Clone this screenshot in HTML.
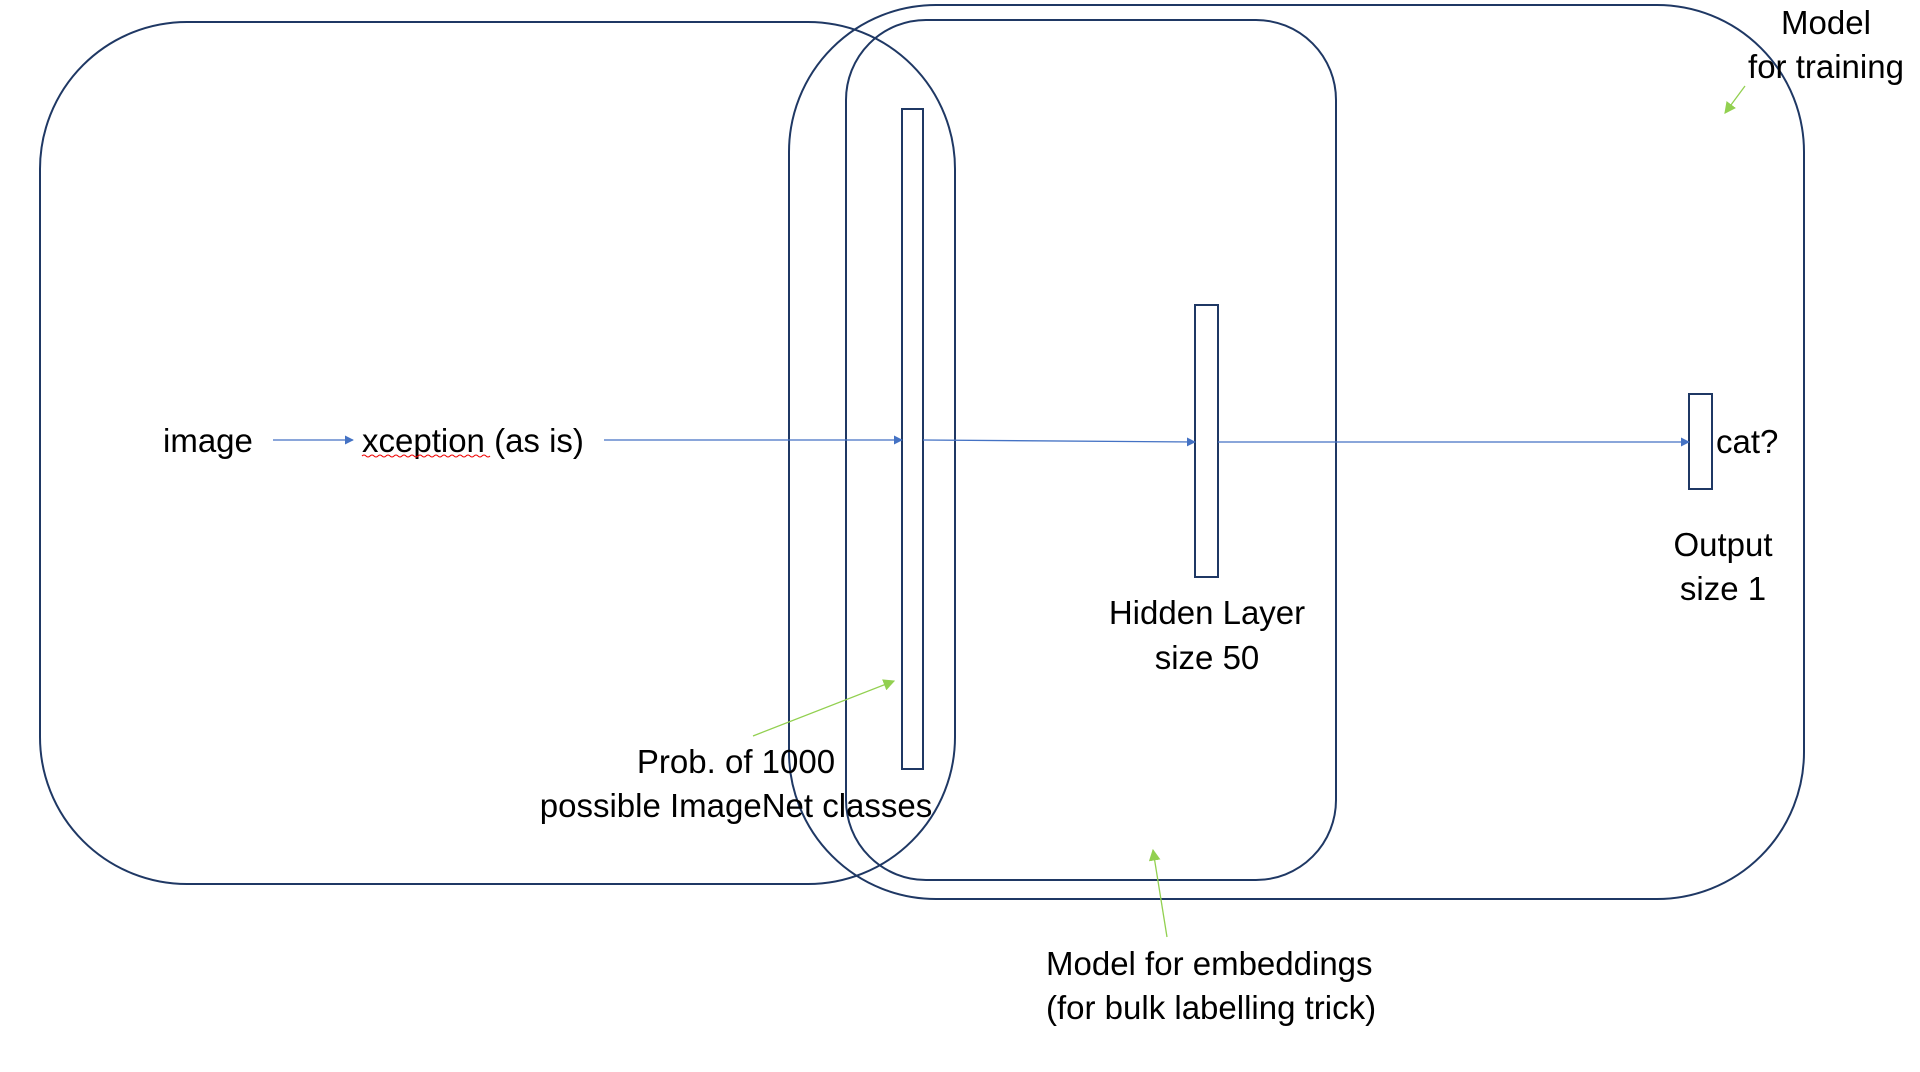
<!DOCTYPE html>
<html><head><meta charset="utf-8"><style>
html,body{margin:0;padding:0;background:#fff;}
svg{display:block;}
text{font-family:"Liberation Sans",sans-serif;font-size:33px;fill:#000;}
</style></head><body>
<svg width="1920" height="1072" viewBox="0 0 1920 1072" xmlns="http://www.w3.org/2000/svg">
<defs>
<marker id="ab" viewBox="0 0 10 10" refX="9" refY="5" markerWidth="7" markerHeight="7" orient="auto"><path d="M0,0L10,5L0,10z" fill="#4472c4"/></marker>
<marker id="ag" viewBox="0 0 10 10" refX="9" refY="5" markerWidth="9" markerHeight="9" orient="auto"><path d="M0,0L10,5L0,10z" fill="#92d050"/></marker>
</defs>
<g fill="none" stroke="#1f3864" stroke-width="2">
<rect x="40" y="22" width="915" height="862" rx="147" ry="147"/>
<rect x="789" y="5" width="1015" height="894" rx="147" ry="147"/>
<rect x="846" y="20" width="490" height="860" rx="80" ry="80"/>
<rect x="902" y="109" width="21" height="660"/>
<rect x="1195" y="305" width="23" height="272"/>
<rect x="1689" y="394" width="23" height="95"/>
</g>
<g stroke="#4472c4" stroke-width="1.3" fill="none">
<line x1="273" y1="440" x2="353" y2="440" marker-end="url(#ab)"/>
<line x1="604" y1="440" x2="902" y2="440" marker-end="url(#ab)"/>
<line x1="923" y1="440" x2="1195" y2="442" marker-end="url(#ab)"/>
<line x1="1218" y1="442" x2="1689" y2="442" marker-end="url(#ab)"/>
</g>
<g stroke="#92d050" stroke-width="1.3" fill="none">
<line x1="753" y1="736" x2="894" y2="681" marker-end="url(#ag)"/>
<line x1="1167" y1="937" x2="1153" y2="850" marker-end="url(#ag)"/>
<line x1="1745" y1="86" x2="1725" y2="113" marker-end="url(#ag)"/>
</g>
<text x="163" y="452">image</text>
<text x="362" y="452">xception (as is)</text>
<path d="M362,456 q2,-2 4,0 t4,0 t4,0 t4,0 t4,0 t4,0 t4,0 t4,0 t4,0 t4,0 t4,0 t4,0 t4,0 t4,0 t4,0 t4,0 t4,0 t4,0 t4,0 t4,0 t4,0 t4,0 t4,0 t4,0 t4,0 t4,0 t4,0 t4,0 t4,0 t4,0 t4,0 t4,0" stroke="#e00" stroke-width="1" fill="none"/>
<text x="1716" y="453">cat?</text>
<g text-anchor="middle">
<text x="1723" y="556">Output</text>
<text x="1723" y="600">size 1</text>
<text x="1207" y="624">Hidden Layer</text>
<text x="1207" y="669">size 50</text>
<text x="736" y="773">Prob. of 1000</text>
<text x="736" y="817">possible ImageNet classes</text>
<text x="1826" y="34">Model</text>
<text x="1826" y="78">for training</text>
</g>
<text x="1046" y="975">Model for embeddings</text>
<text x="1046" y="1019">(for bulk labelling trick)</text>
</svg>
</body></html>
